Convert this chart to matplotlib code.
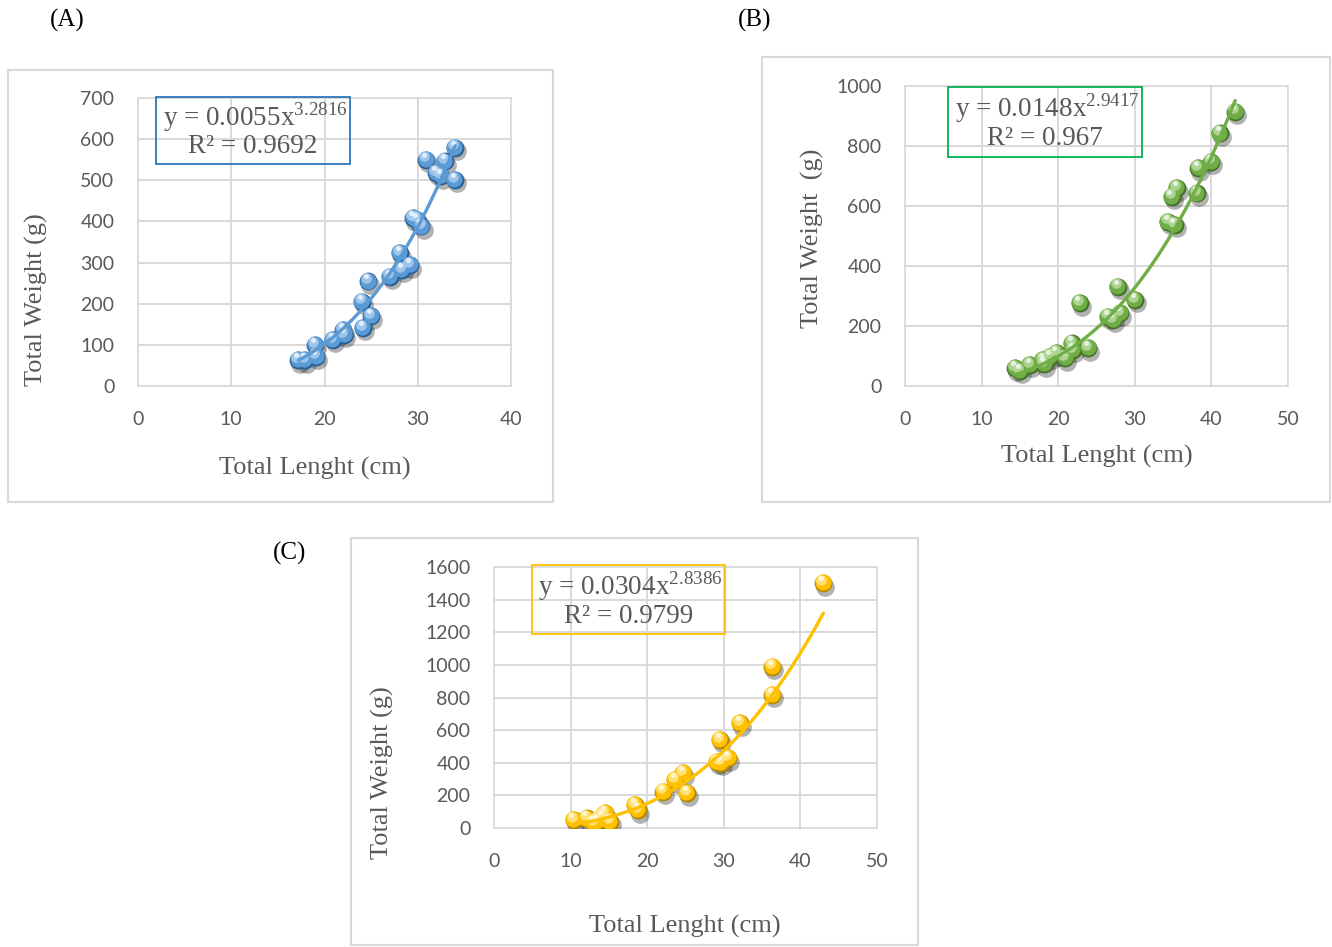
import matplotlib
matplotlib.use('Agg')
import matplotlib.pyplot as plt
import matplotlib.transforms as mtransforms
from matplotlib.patches import Rectangle
import numpy as np

plt.rcParams['mathtext.fontset'] = 'custom'
plt.rcParams['mathtext.rm'] = 'Liberation Serif'

# (A)
a_len = [17.2, 17.9, 19.0, 19.1, 20.9, 22.0, 22.1, 24.1, 25.0, 24.0, 24.7, 27.0,
         28.3, 29.2, 28.1, 29.5, 30.4, 29.9, 30.9, 32.0, 32.5, 32.9, 34.0, 34.0]
a_wt = [63, 63, 100, 71, 112, 136, 124, 141, 170, 205, 254, 266,
        282, 294, 323, 408, 388, 404, 550, 518, 510, 546, 579, 501]
# (B)
b_len = [14.4, 15.0, 16.3, 18.0, 18.2, 18.9, 19.8, 20.9, 21.8, 21.9, 23.9, 22.8,
         26.5, 27.2, 28.1, 27.8, 30.0, 34.3, 35.2, 34.8, 35.5, 38.1, 38.3, 40.0, 41.1, 43.1]
b_wt = [59, 50, 70, 87, 73, 98, 109, 93, 142, 120, 126, 276,
        231, 220, 243, 331, 287, 548, 537, 631, 659, 642, 726, 748, 842, 914]
# (C)
c_len = [10.4, 12.1, 13.0, 14.1, 14.5, 15.1, 13.5, 18.4, 18.8, 22.1, 23.6, 24.7,
         25.2, 29.1, 29.6, 30.6, 29.5, 32.1, 36.3, 36.3, 43.0]
c_wt = [49, 59, 29, 69, 90, 39, 45, 141, 110, 223, 294, 336,
        213, 407, 400, 428, 540, 642, 816, 990, 1501]

# trendline coefficients shown on the chart
a_fit = (0.0055, 3.2816, '3.2816', '0.9692')
b_fit = (0.0148, 2.9417, '2.9417', '0.967')
c_fit = (0.0304, 2.8386, '2.8386', '0.9799')

W, H = 1332, 947
fig = plt.figure(figsize=(W / 100, H / 100), dpi=100)

grid_c = '#d9d9d9'
txt_c = '#595959'
serif = 'Liberation Serif'
sans = 'Lato'


def fx(px):
    return px / W


def fy(py):
    return 1 - py / H


def frame(x0, y0, x1, y1, ec=grid_c, lw=1.5):
    fig.add_artist(Rectangle((fx(x0), fy(y1)), fx(x1) - fx(x0), fy(y0) - fy(y1),
                             transform=fig.transFigure, fill=False, ec=ec, lw=lw))


def spheres(ax, x, y, dark, mid, light, s=165):
    sh = mtransforms.offset_copy(ax.transData, fig=fig, x=1.5, y=-2.5, units='points')
    ax.scatter(x, y, s=s * 1.1, color='black', alpha=0.3, lw=0, transform=sh, zorder=3)
    ax.scatter(x, y, s=s, color=dark, lw=0, zorder=4)
    layers = [(0.82, mid, 0.4, 0.6), (0.35, light, 1.4, 2.4), (0.08, 'white', 1.6, 3.6)]
    for k, (sz, col, dx, dy) in enumerate(layers):
        off = mtransforms.offset_copy(ax.transData, fig=fig, x=-dx, y=dy, units='points')
        ax.scatter(x, y, s=s * sz, color=col, lw=0, transform=off, zorder=5 + k,
                   alpha=[1.0, 0.85, 0.7][k])


def panel(box, xmax, ymax, ystep, x, y, fit, xr, cols, line_c, box_c, eq_box,
          ylab, xlab_pos, ylab_pos, tag, tag_pos, frame_box):
    x0, y0, x1, y1 = box
    ax = fig.add_axes([fx(x0), fy(y1), fx(x1) - fx(x0), fy(y0) - fy(y1)])
    ax.set_xlim(0, xmax)
    ax.set_ylim(0, ymax)
    ax.set_xticks(np.arange(0, xmax + 1, 10))
    ax.set_yticks(np.arange(0, ymax + 1, ystep))
    ax.grid(True, color=grid_c, lw=1.2)
    ax.set_axisbelow(True)
    for sp in ax.spines.values():
        sp.set_visible(False)
    ax.tick_params(length=0, labelsize=14, labelcolor=txt_c)
    ax.tick_params(axis='x', pad=18)
    ax.tick_params(axis='y', pad=17)
    for lab in ax.get_xticklabels() + ax.get_yticklabels():
        lab.set_family(sans)
    for v in ax.get_yticks():
        ax.axhline(v, color=grid_c, lw=1.2, zorder=0, clip_on=False)
    for v in ax.get_xticks():
        ax.axvline(v, color=grid_c, lw=1.2, zorder=0, clip_on=False)

    spheres(ax, x, y, *cols)
    xs = np.linspace(xr[0], xr[1], 200)
    ax.plot(xs, fit[0] * xs ** fit[1], color=line_c, lw=2.4, zorder=8, solid_capstyle='round')

    # equation box
    bx0, by0, bx1, by1 = eq_box
    frame(bx0, by0, bx1, by1, ec=box_c, lw=1.3)
    cx = (bx0 + bx1) / 2
    fig.text(fx(cx + 2), fy(by0 + (by1 - by0) * 0.30), 'y = %sx$^{%s}$' % (('%.4f' % fit[0]), fit[2]),
             ha='center', va='center', family=serif, fontsize=19.5, color=txt_c)
    fig.text(fx(cx), fy(by0 + (by1 - by0) * 0.74), 'R² = %s' % fit[3],
             ha='center', va='center', family=serif, fontsize=19.5, color=txt_c)

    fig.text(fx(xlab_pos[0]), fy(xlab_pos[1]), 'Total Lenght (cm)', ha='center', va='center',
             family=serif, fontsize=19, color=txt_c)
    fig.text(fx(ylab_pos[0]), fy(ylab_pos[1]), ylab, ha='center', va='center', rotation=90,
             family=serif, fontsize=19, color=txt_c)
    fig.text(fx(tag_pos[0]), fy(tag_pos[1]), tag, ha='center', va='center',
             family=serif, fontsize=18, color='black')
    frame(*frame_box)
    return ax


panel((138, 98, 511, 386), 40, 700, 100, a_len, a_wt, a_fit, (17.2, 34.0),
      ('#2a5f94', '#5b9bd5', '#a9cdef'), '#5b9bd5', '#2e75b6', (156, 97, 350, 164),
      'Total Weight (g)', (315, 468), (36, 300), '(A)', (67, 20), (8, 70, 553, 502))

panel((905, 86, 1288, 386), 50, 1000, 200, b_len, b_wt, b_fit, (14.4, 43.1),
      ('#437228', '#70ad47', '#b7dc9e'), '#70ad47', '#00b050', (948, 87, 1142, 157),
      'Total Weight  (g)', (1097, 456), (812, 238), '(B)', (755, 20), (762, 57, 1330, 502))

panel((494, 567, 877, 828), 50, 1600, 200, c_len, c_wt, c_fit, (10.4, 43.0),
      ('#b58800', '#ffc000', '#ffe88a'), '#ffc000', '#ffc000', (532, 565, 725, 634),
      'Total Weight (g)', (685, 926), (382, 773), '(C)', (290, 553), (351, 538, 918, 945))

fig.savefig('out.png', dpi=100)
